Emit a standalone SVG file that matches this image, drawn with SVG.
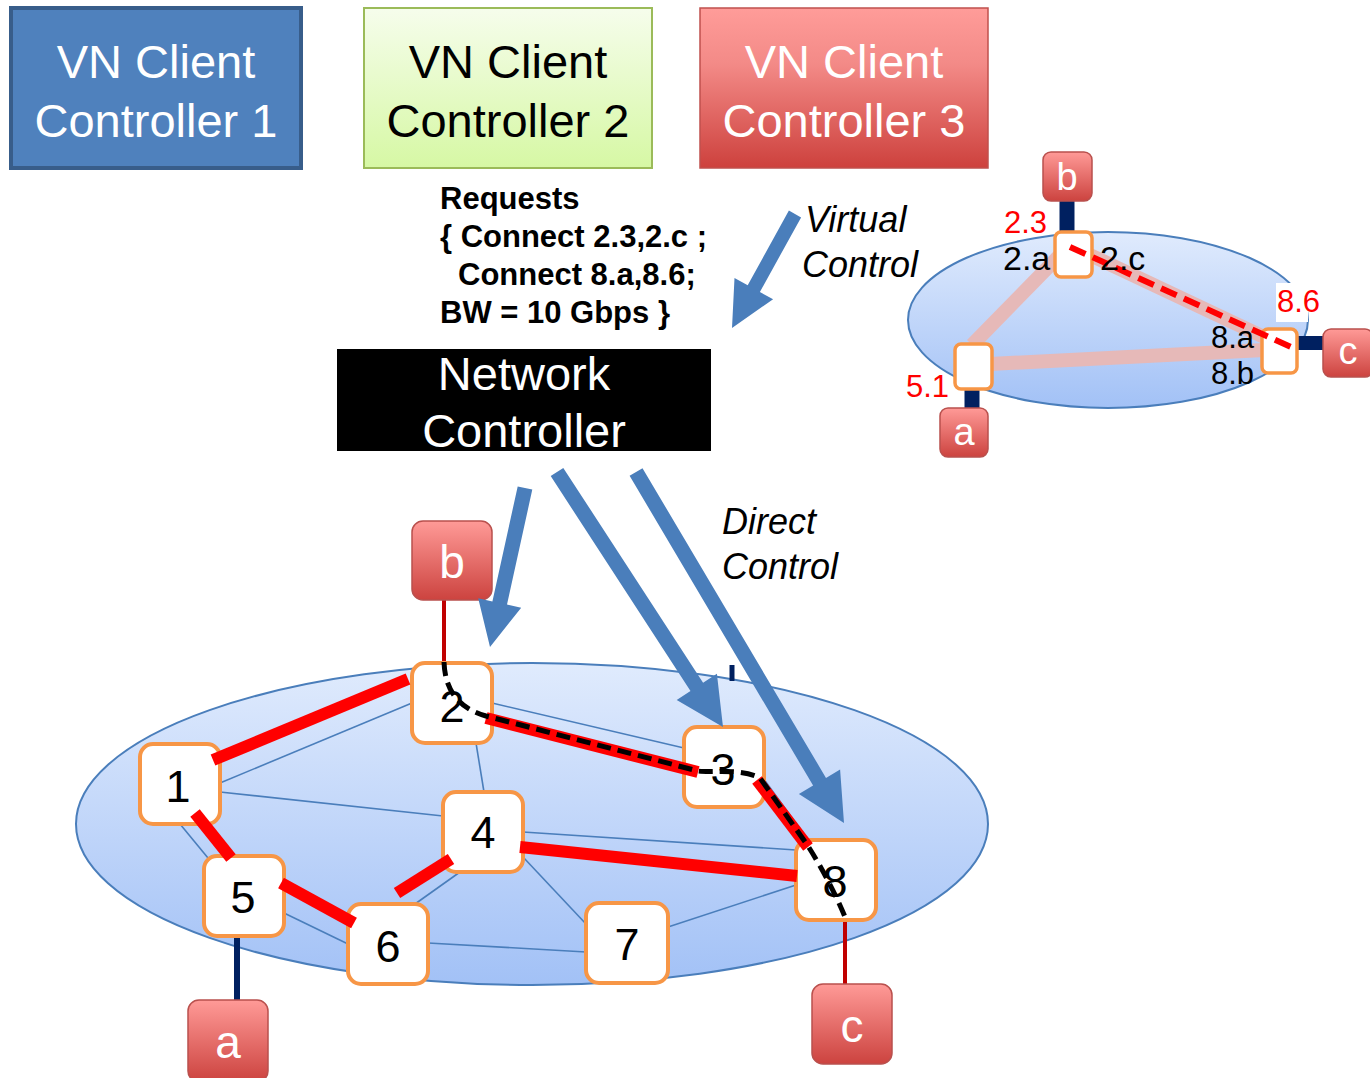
<svg xmlns="http://www.w3.org/2000/svg" width="1370" height="1078" viewBox="0 0 1370 1078">
<style>
.ctl{font-family:"Liberation Sans",Arial,sans-serif;font-size:47px;text-anchor:middle}
.req{font-family:"Liberation Sans",Arial,sans-serif;font-size:31px;font-weight:bold;fill:#000}
.ital{font-family:"Liberation Sans",Arial,sans-serif;font-size:36px;font-style:italic;fill:#000}
.node rect{fill:#fff;stroke:#f79646;stroke-width:4}
.node text{font-family:"Liberation Sans",Arial,sans-serif;font-size:45px;text-anchor:middle;fill:#000}
.ep rect{fill:url(#epG);stroke:#b9504d;stroke-width:1.5}
.ep text{font-family:"Liberation Sans",Arial,sans-serif;font-size:46px;text-anchor:middle;fill:#fff}
.sep text{font-size:38px}
.thin{stroke:#4a7ebb;stroke-width:1.6;fill:none}
.red{stroke:#ff0000;stroke-width:12;fill:none}
.pink{stroke:#e6b9b8;stroke-width:14;fill:none}
.navy{stroke:#002060;fill:none}
.lbl{font-family:"Liberation Sans",Arial,sans-serif;font-size:34px;fill:#000}
.lbl2{font-family:"Liberation Sans",Arial,sans-serif;font-size:31px;fill:#000}
.rlbl{font-family:"Liberation Sans",Arial,sans-serif;font-size:31px;fill:#ff0000}
.barrow{fill:#4a7ebb}
</style>
<defs>
<linearGradient id="greenG" x1="0" y1="0" x2="0" y2="1"><stop offset="0" stop-color="#f6fdec"/><stop offset="1" stop-color="#d6f8a4"/></linearGradient>
<linearGradient id="redG" x1="0" y1="0" x2="0" y2="1"><stop offset="0" stop-color="#ff9c99"/><stop offset="0.35" stop-color="#f38a87"/><stop offset="1" stop-color="#cd413d"/></linearGradient>
<linearGradient id="epG" x1="0" y1="0" x2="0" y2="1"><stop offset="0" stop-color="#ff9a97"/><stop offset="1" stop-color="#cc433f"/></linearGradient>
<linearGradient id="ellG" x1="0" y1="0" x2="0" y2="1"><stop offset="0" stop-color="#e0ebfd"/><stop offset="1" stop-color="#a2c1f6"/></linearGradient>
</defs>
<rect width="1370" height="1078" fill="#fff"/>

<g id="vn1" class="ctl">
<rect x="11" y="8" width="290" height="160" fill="#4f81bd" stroke="#385d8a" stroke-width="4"/>
<text x="156" y="78" fill="#fff">VN Client</text>
<text x="156" y="137" fill="#fff">Controller 1</text>
</g>
<g id="vn2" class="ctl">
<rect x="364" y="8" width="288" height="160" fill="url(#greenG)" stroke="#9bbb59" stroke-width="2"/>
<text x="508" y="78" fill="#000">VN Client</text>
<text x="508" y="137" fill="#000">Controller 2</text>
</g>
<g id="vn3" class="ctl">
<rect x="700" y="8" width="288" height="160" fill="url(#redG)" stroke="#c0504d" stroke-width="1.5"/>
<text x="844" y="78" fill="#fff">VN Client</text>
<text x="844" y="137" fill="#fff">Controller 3</text>
</g>

<g id="requests" class="req">
<text x="440" y="209">Requests</text>
<text x="440" y="247">{ Connect 2.3,2.c ;</text>
<text x="458" y="285">Connect 8.a,8.6;</text>
<text x="440" y="323">BW = 10 Gbps }</text>
</g>

<g id="netctl" class="ctl">
<rect x="337" y="349" width="374" height="102" fill="#000"/>
<text x="524" y="390" fill="#fff">Network</text>
<text x="524" y="447" fill="#fff">Controller</text>
</g>

<g id="labels" class="ital">
<text x="805" y="232">Virtual</text>
<text x="802" y="277">Control</text>
<text x="722" y="534">Direct</text>
<text x="722" y="579">Control</text>
</g>

<g id="big-network">
<ellipse cx="532" cy="824" rx="456" ry="161" fill="url(#ellG)" stroke="#4a7ebb" stroke-width="2"/>
</g>

<g id="connectors">
<g id="thin-links" class="thin">
<line x1="220" y1="783" x2="412" y2="703"/>
<line x1="220" y1="792" x2="443" y2="816"/>
<line x1="180" y1="824" x2="208" y2="858"/>
<line x1="476" y1="743" x2="484" y2="792"/>
<line x1="492" y1="703" x2="684" y2="748"/>
<line x1="763" y1="778" x2="808" y2="840"/>
<line x1="523" y1="832" x2="796" y2="850"/>
<line x1="460" y1="872" x2="415" y2="904"/>
<line x1="523" y1="857" x2="586" y2="924"/>
<line x1="668" y1="927" x2="796" y2="885"/>
<line x1="284" y1="913" x2="348" y2="944"/>
<line x1="428" y1="943" x2="586" y2="952"/>
</g>
<line class="navy" x1="237" y1="936" x2="237" y2="1000" stroke-width="6"/>
<line x1="444" y1="600" x2="444" y2="663" stroke="#c00000" stroke-width="4"/>
<line x1="845" y1="918" x2="845" y2="985" stroke="#c00000" stroke-width="4"/>
<line class="navy" x1="732" y1="665" x2="732" y2="681" stroke-width="5"/>
</g>

<g id="nodes">
<g id="n2" class="node"><rect x="412" y="663" width="80" height="80" rx="13"/><text x="452" y="722">2</text></g>
<g id="n1" class="node"><rect x="140" y="744" width="80" height="80" rx="13"/><text x="178" y="802">1</text></g>
<g id="n3" class="node"><rect x="684" y="727" width="80" height="80" rx="13"/><text x="723" y="785">3</text></g>
<g id="n4" class="node"><rect x="443" y="792" width="80" height="80" rx="13"/><text x="483" y="848">4</text></g>
<g id="n5" class="node"><rect x="204" y="856" width="80" height="80" rx="13"/><text x="243" y="913">5</text></g>
<g id="n8" class="node"><rect x="796" y="840" width="80" height="80" rx="13"/><text x="835" y="897">8</text></g>
<g id="n6" class="node"><rect x="348" y="904" width="80" height="80" rx="13"/><text x="388" y="962">6</text></g>
<g id="n7" class="node"><rect x="586" y="903" width="82" height="80" rx="13"/><text x="627" y="960">7</text></g>
<g id="b" class="ep"><rect x="412" y="521" width="80" height="79" rx="11"/><text x="452" y="578">b</text></g>
<g id="a" class="ep"><rect x="188" y="1000" width="80" height="82" rx="11"/><text x="228" y="1058">a</text></g>
<g id="c" class="ep"><rect x="812" y="984" width="80" height="80" rx="11"/><text x="852" y="1042">c</text></g>
</g>

<g id="path-connectors">
<g class="red">
<line x1="213" y1="760" x2="408" y2="679"/>
<line x1="195" y1="813" x2="231" y2="858"/>
<line x1="281" y1="883" x2="354" y2="923"/>
<line x1="397" y1="893" x2="451" y2="859"/>
<line x1="520" y1="847" x2="797" y2="876"/>
<line x1="486" y1="718" x2="698" y2="772"/>
<line x1="757" y1="780" x2="808" y2="847"/>
</g>
<path d="M444,662 C445,690 458,708 486,716 L698,771 C712,773 740,768 760,778 L808,846 C822,868 836,895 845,917" fill="none" stroke="#000" stroke-width="5" stroke-dasharray="14,7"/>
</g>

<g id="arrows" class="barrow">
<polygon points="801.1,217.4 759.9,292.0 773.1,299.2 732,328 734.5,278.0 747.7,285.2 788.9,210.6"/>
<polygon points="532.3,489.6 507.0,604.6 521.2,607.7 490,647 478.2,598.3 492.4,601.4 517.7,486.4"/>
<polygon points="550.7,476.1 690.5,690.9 676.7,699.9 723,727 716.9,673.7 703.1,682.7 563.3,467.9"/>
<polygon points="629.6,475.8 813.1,785.5 798.9,793.9 844,823 840.1,769.5 826.0,777.9 642.5,468.2"/>
</g>

<g id="virtual-network">
<ellipse cx="1108" cy="320" rx="200" ry="88" fill="url(#ellG)" stroke="#4a7ebb" stroke-width="2"/>
<g id="vlinks">
<line class="pink" x1="972" y1="345" x2="1060" y2="255"/>
<line class="pink" x1="990" y1="364" x2="1264" y2="350"/>
<line class="pink" x1="1090" y1="255" x2="1264" y2="337"/>
<line class="navy" x1="1067" y1="200" x2="1067" y2="233" stroke-width="15"/>
<line class="navy" x1="1294" y1="343" x2="1325" y2="343" stroke-width="14"/>
<line class="navy" x1="972" y1="376" x2="972" y2="408" stroke-width="15"/>
</g>
<g id="v2" class="node"><rect x="1055" y="232" width="37" height="45" rx="6" style="stroke-width:3.5"/></g>
<g id="v5" class="node"><rect x="955" y="344" width="37" height="45" rx="6" style="stroke-width:3.5"/></g>
<g id="v8" class="node"><rect x="1262" y="329" width="35" height="44" rx="6" style="stroke-width:3.5"/></g>
<line x1="1070" y1="247" x2="1293" y2="348" stroke="#ff0000" stroke-width="6" stroke-dasharray="17,8"/>
<g id="vb" class="ep sep"><rect x="1043" y="152" width="49" height="49" rx="8"/><text x="1067" y="190">b</text></g>
<g id="vc" class="ep sep"><rect x="1323" y="329" width="50" height="48" rx="8"/><text x="1348" y="364">c</text></g>
<g id="va" class="ep sep"><rect x="940" y="408" width="48" height="49" rx="8"/><text x="964" y="445">a</text></g>
<g id="vlabels">
<text class="rlbl" x="1004" y="233">2.3</text>
<text class="lbl" x="1003" y="270">2.a</text>
<text class="lbl" x="1100" y="270">2.c</text>
<rect x="1276" y="283" width="32" height="39" fill="#fff"/>
<text class="rlbl" x="1277" y="312">8.6</text>
<text class="lbl2" x="1211" y="348">8.a</text>
<text class="lbl2" x="1211" y="384">8.b</text>
<text class="rlbl" x="906" y="397">5.1</text>
</g>
</g>
</svg>
